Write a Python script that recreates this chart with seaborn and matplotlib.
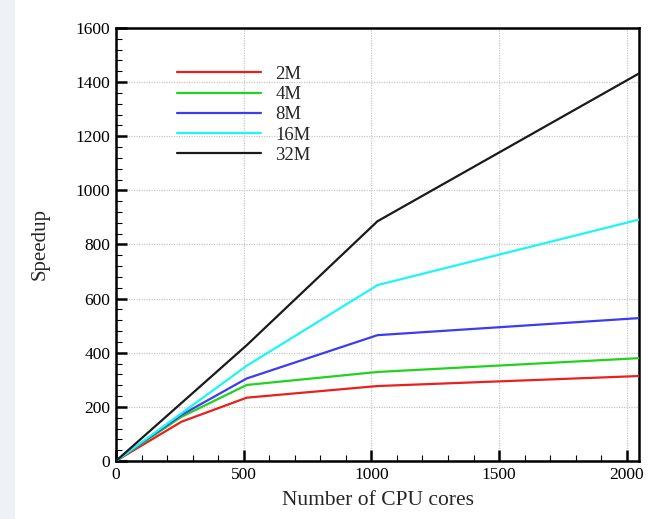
import numpy as np
import pandas as pd
import matplotlib
matplotlib.use("Agg")
import matplotlib.pyplot as plt
from matplotlib.ticker import MultipleLocator
import seaborn as sns

# CPU core counts and measured speedup for each problem size
cores = [1, 256, 512, 1024, 2048]
speedup_2m = [1, 145, 234, 277, 314]
speedup_4m = [1, 163, 281, 329, 380]
speedup_8m = [1, 170, 305, 465, 528]
speedup_16m = [1, 176, 352, 650, 892]
speedup_32m = [1, 214, 428, 886, 1432]

series_names = ["2M", "4M", "8M", "16M", "32M"]
series_colors = ["#e8201e", "#22d21e", "#3c3cf0", "#1ef5f5", "#1a1a1a"]

frames = []
for name, vals in zip(series_names,
                      [speedup_2m, speedup_4m, speedup_8m, speedup_16m, speedup_32m]):
    frames.append(pd.DataFrame({"cores": cores, "speedup": vals, "size": name}))
df = pd.concat(frames, ignore_index=True)

sns.set_theme(style="white")
plt.rcParams["font.family"] = ["Liberation Serif", "DejaVu Serif"]

fig = plt.figure(figsize=(6.54, 5.19), dpi=100)
fig.patch.set_facecolor("white")
# pale strip along the left edge
fig.add_artist(plt.Rectangle((0, 0), 15 / 654, 1, transform=fig.transFigure,
                             facecolor="#eef2f7", edgecolor="none", zorder=0))
ax = fig.add_axes([116 / 654, 58 / 519, 523 / 654, 433 / 519])

sns.lineplot(data=df, x="cores", y="speedup", hue="size",
             hue_order=series_names, palette=dict(zip(series_names, series_colors)),
             linewidth=1.6, ax=ax, legend=False, zorder=3)

ax.set_xlim(0, 2048)
ax.set_ylim(0, 1600)
ax.xaxis.set_major_locator(MultipleLocator(500))
ax.xaxis.set_minor_locator(MultipleLocator(100))
ax.yaxis.set_major_locator(MultipleLocator(200))
ax.yaxis.set_minor_locator(MultipleLocator(40))

ax.grid(True, which="major", color="#c8c8c8", linestyle=(0, (1, 1)), linewidth=0.9)
ax.set_axisbelow(True)

for side in ["left", "bottom", "right", "top"]:
    ax.spines[side].set_color("black")
    ax.spines[side].set_linewidth(1.8)

ax.tick_params(which="major", direction="in", length=8, width=1.8,
               labelsize=12.5, colors="black", pad=4, left=True, bottom=True)
ax.tick_params(which="minor", direction="in", length=4, width=0.8,
               colors="black", left=True, bottom=True)

ax.set_xlabel("Number of CPU cores", fontsize=15.5, labelpad=6)
ax.set_ylabel("Speedup", fontsize=15, labelpad=19)

handles = [plt.Line2D([], [], color=c, linewidth=1.6) for c in series_colors]
ax.legend(handles, series_names, loc="upper left", bbox_to_anchor=(0.1166, 0.913),
          frameon=False, fontsize=13.5, handlelength=4.5, handletextpad=0.75,
          labelspacing=0.17, borderaxespad=0, borderpad=0)

fig.savefig("out.png", dpi=100, facecolor=fig.get_facecolor())
